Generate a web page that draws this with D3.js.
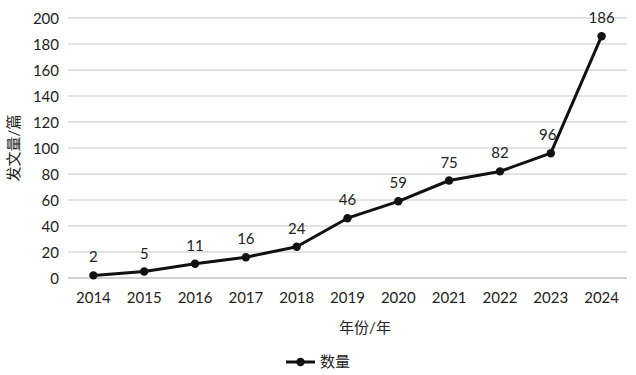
<!DOCTYPE html>
<html><head><meta charset="utf-8">
<script src="https://cdn.jsdelivr.net/npm/d3@7"></script>
<style>body{margin:0;background:#fff;} text{font-family:Lato,"Noto Sans CJK SC",sans-serif;}</style>
</head><body>
<svg id="c" width="636" height="375"></svg>
<script>
const years = ["2014","2015","2016","2017","2018","2019","2020","2021","2022","2023","2024"];
const counts = [2,5,11,16,24,46,59,75,82,96,186];
const yTicks = [0,20,40,60,80,100,120,140,160,180,200];
const seriesName = "数量";
const xTitle = "年份/年";
const yTitle = "发文量/篇";

(function(){
const svg = d3.select("#c");
const pl = 68, pr = 627, pt = 18, pb = 278;
const x = d3.scaleBand().domain(years).range([pl, pr]);
const y = d3.scaleLinear().domain([0,200]).range([pb, pt]);
const cjk = "'Noto Sans CJK SC',sans-serif";
const txt = "#222";
const fs = 15;

svg.append("g").selectAll("line").data(yTicks).join("line")
  .attr("x1", pl).attr("x2", pr)
  .attr("y1", d=>y(d)).attr("y2", d=>y(d))
  .attr("stroke", d=>d===0?"#bfbfbf":"#d9d9d9").attr("stroke-width", 1.3);

const ya = svg.append("g").attr("transform",`translate(${pl-9},0)`)
  .call(d3.axisLeft(y).tickValues(yTicks).tickSize(0).tickPadding(0));
ya.select(".domain").remove();
ya.selectAll("text").attr("font-size",fs).attr("fill",txt).attr("font-family","Lato,sans-serif").attr("dy","0.35em");

const xa = svg.append("g").attr("transform",`translate(0,${pb+12})`)
  .call(d3.axisBottom(x).tickSize(0).tickPadding(0));
xa.select(".domain").remove();
xa.selectAll("text").attr("font-size",fs).attr("fill",txt).attr("font-family","Lato,sans-serif").attr("dy","0.85em");

const cx = d => x(d) + x.bandwidth()/2;
const line = d3.line().x((d,i)=>cx(years[i])).y(d=>y(d));
svg.append("path").datum(counts).attr("d", line)
  .attr("fill","none").attr("stroke","#111").attr("stroke-width",3).attr("stroke-linejoin","round");
svg.append("g").selectAll("circle").data(counts).join("circle")
  .attr("cx",(d,i)=>cx(years[i])).attr("cy",d=>y(d)).attr("r",4.2).attr("fill","#111");
svg.append("g").selectAll("text").data(counts).join("text")
  .attr("x",(d,i)=>cx(years[i]) - (i===9?3:0)).attr("y",d=>y(d)-13)
  .attr("text-anchor","middle").attr("font-size",fs).attr("fill",txt).text(d=>d);

svg.append("text").attr("transform",`translate(19,${(pt+pb)/2}) rotate(-90)`)
  .attr("text-anchor","middle").attr("font-size",15).attr("fill",txt).attr("font-family",cjk).text(yTitle);
svg.append("text").attr("x",365).attr("y",333).attr("text-anchor","middle")
  .attr("font-size",15).attr("fill",txt).attr("font-family",cjk).text(xTitle);

const lg = svg.append("g").attr("transform","translate(286,362)");
lg.append("line").attr("x1",0).attr("x2",29).attr("y1",0).attr("y2",0).attr("stroke","#111").attr("stroke-width",3);
lg.append("circle").attr("cx",14.5).attr("cy",0).attr("r",4.2).attr("fill","#111");
lg.append("text").attr("x",34).attr("y",0).attr("dy","0.35em").attr("font-size",15).attr("fill",txt).attr("font-family",cjk).text(seriesName);
})();
</script>
</body></html>
